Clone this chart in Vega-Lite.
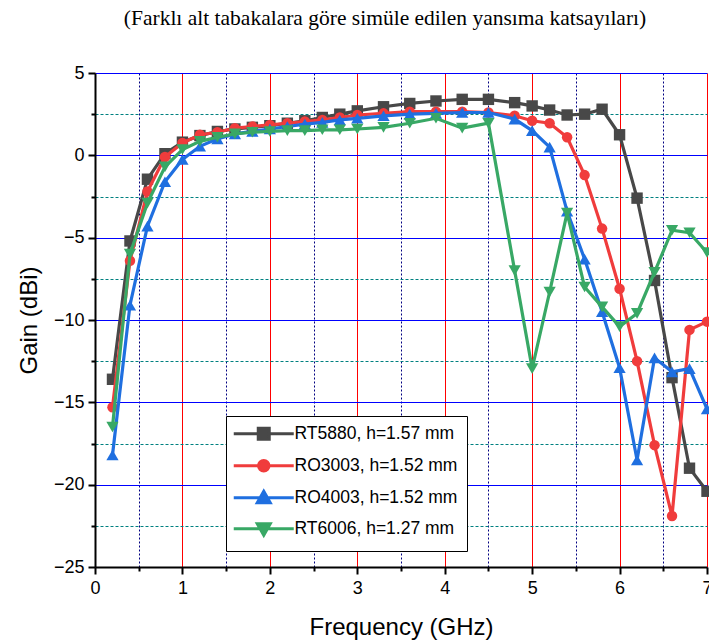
{
  "$schema": "https://vega.github.io/schema/vega-lite/v6.json",
  "autosize": {"type": "none"},
  "width": 612,
  "height": 494,
  "padding": {"left": 95, "top": 73, "right": 2, "bottom": 77},
  "background": "white",
  "config": {"view": {"stroke": null}},
  "title": {
    "text": "(Farklı alt tabakalara göre simüle edilen yansıma katsayıları)",
    "font": "Liberation Serif",
    "fontSize": 21.5,
    "fontWeight": "normal",
    "color": "black",
    "anchor": "middle",
    "dx": -16,
    "offset": 35
  },
  "datasets": {
    "gain": [
      {"s": "RT5880, h=1.57 mm", "f": 0.2, "g": -13.6},
      {"s": "RT5880, h=1.57 mm", "f": 0.4, "g": -5.2},
      {"s": "RT5880, h=1.57 mm", "f": 0.6, "g": -1.45},
      {"s": "RT5880, h=1.57 mm", "f": 0.8, "g": 0.1},
      {"s": "RT5880, h=1.57 mm", "f": 1.0, "g": 0.8},
      {"s": "RT5880, h=1.57 mm", "f": 1.2, "g": 1.2},
      {"s": "RT5880, h=1.57 mm", "f": 1.4, "g": 1.45},
      {"s": "RT5880, h=1.57 mm", "f": 1.6, "g": 1.6},
      {"s": "RT5880, h=1.57 mm", "f": 1.8, "g": 1.7},
      {"s": "RT5880, h=1.57 mm", "f": 2.0, "g": 1.8},
      {"s": "RT5880, h=1.57 mm", "f": 2.2, "g": 1.95},
      {"s": "RT5880, h=1.57 mm", "f": 2.4, "g": 2.1},
      {"s": "RT5880, h=1.57 mm", "f": 2.6, "g": 2.3},
      {"s": "RT5880, h=1.57 mm", "f": 2.8, "g": 2.5},
      {"s": "RT5880, h=1.57 mm", "f": 3.0, "g": 2.7},
      {"s": "RT5880, h=1.57 mm", "f": 3.3, "g": 2.95},
      {"s": "RT5880, h=1.57 mm", "f": 3.6, "g": 3.15},
      {"s": "RT5880, h=1.57 mm", "f": 3.9, "g": 3.3},
      {"s": "RT5880, h=1.57 mm", "f": 4.2, "g": 3.4},
      {"s": "RT5880, h=1.57 mm", "f": 4.5, "g": 3.4},
      {"s": "RT5880, h=1.57 mm", "f": 4.8, "g": 3.2},
      {"s": "RT5880, h=1.57 mm", "f": 5.0, "g": 3.0},
      {"s": "RT5880, h=1.57 mm", "f": 5.2, "g": 2.75},
      {"s": "RT5880, h=1.57 mm", "f": 5.4, "g": 2.45},
      {"s": "RT5880, h=1.57 mm", "f": 5.6, "g": 2.5},
      {"s": "RT5880, h=1.57 mm", "f": 5.8, "g": 2.8},
      {"s": "RT5880, h=1.57 mm", "f": 6.0, "g": 1.25},
      {"s": "RT5880, h=1.57 mm", "f": 6.2, "g": -2.6},
      {"s": "RT5880, h=1.57 mm", "f": 6.4, "g": -7.6},
      {"s": "RT5880, h=1.57 mm", "f": 6.6, "g": -13.5},
      {"s": "RT5880, h=1.57 mm", "f": 6.8, "g": -19.0},
      {"s": "RT5880, h=1.57 mm", "f": 7.0, "g": -20.4},
      {"s": "RO3003, h=1.52 mm", "f": 0.2, "g": -15.3},
      {"s": "RO3003, h=1.52 mm", "f": 0.4, "g": -6.4},
      {"s": "RO3003, h=1.52 mm", "f": 0.6, "g": -2.2},
      {"s": "RO3003, h=1.52 mm", "f": 0.8, "g": -0.1},
      {"s": "RO3003, h=1.52 mm", "f": 1.0, "g": 0.75},
      {"s": "RO3003, h=1.52 mm", "f": 1.2, "g": 1.25},
      {"s": "RO3003, h=1.52 mm", "f": 1.4, "g": 1.4},
      {"s": "RO3003, h=1.52 mm", "f": 1.6, "g": 1.65},
      {"s": "RO3003, h=1.52 mm", "f": 1.8, "g": 1.75},
      {"s": "RO3003, h=1.52 mm", "f": 2.0, "g": 1.85},
      {"s": "RO3003, h=1.52 mm", "f": 2.2, "g": 1.95},
      {"s": "RO3003, h=1.52 mm", "f": 2.4, "g": 2.05},
      {"s": "RO3003, h=1.52 mm", "f": 2.6, "g": 2.15},
      {"s": "RO3003, h=1.52 mm", "f": 2.8, "g": 2.3},
      {"s": "RO3003, h=1.52 mm", "f": 3.0, "g": 2.45},
      {"s": "RO3003, h=1.52 mm", "f": 3.3, "g": 2.55},
      {"s": "RO3003, h=1.52 mm", "f": 3.6, "g": 2.65},
      {"s": "RO3003, h=1.52 mm", "f": 3.9, "g": 2.65},
      {"s": "RO3003, h=1.52 mm", "f": 4.2, "g": 2.65},
      {"s": "RO3003, h=1.52 mm", "f": 4.5, "g": 2.6},
      {"s": "RO3003, h=1.52 mm", "f": 4.8, "g": 2.4},
      {"s": "RO3003, h=1.52 mm", "f": 5.0, "g": 2.1},
      {"s": "RO3003, h=1.52 mm", "f": 5.2, "g": 1.95},
      {"s": "RO3003, h=1.52 mm", "f": 5.4, "g": 1.1},
      {"s": "RO3003, h=1.52 mm", "f": 5.6, "g": -1.2},
      {"s": "RO3003, h=1.52 mm", "f": 5.8, "g": -4.45},
      {"s": "RO3003, h=1.52 mm", "f": 6.0, "g": -8.1},
      {"s": "RO3003, h=1.52 mm", "f": 6.2, "g": -12.5},
      {"s": "RO3003, h=1.52 mm", "f": 6.4, "g": -17.6},
      {"s": "RO3003, h=1.52 mm", "f": 6.6, "g": -21.9},
      {"s": "RO3003, h=1.52 mm", "f": 6.8, "g": -10.6},
      {"s": "RO3003, h=1.52 mm", "f": 7.0, "g": -10.1},
      {"s": "RO4003, h=1.52 mm", "f": 0.2, "g": -18.2},
      {"s": "RO4003, h=1.52 mm", "f": 0.4, "g": -9.1},
      {"s": "RO4003, h=1.52 mm", "f": 0.6, "g": -4.3},
      {"s": "RO4003, h=1.52 mm", "f": 0.8, "g": -1.6},
      {"s": "RO4003, h=1.52 mm", "f": 1.0, "g": -0.25},
      {"s": "RO4003, h=1.52 mm", "f": 1.2, "g": 0.55},
      {"s": "RO4003, h=1.52 mm", "f": 1.4, "g": 1.0},
      {"s": "RO4003, h=1.52 mm", "f": 1.6, "g": 1.3},
      {"s": "RO4003, h=1.52 mm", "f": 1.8, "g": 1.45},
      {"s": "RO4003, h=1.52 mm", "f": 2.0, "g": 1.6},
      {"s": "RO4003, h=1.52 mm", "f": 2.2, "g": 1.75},
      {"s": "RO4003, h=1.52 mm", "f": 2.4, "g": 1.9},
      {"s": "RO4003, h=1.52 mm", "f": 2.6, "g": 2.0},
      {"s": "RO4003, h=1.52 mm", "f": 2.8, "g": 2.15},
      {"s": "RO4003, h=1.52 mm", "f": 3.0, "g": 2.25},
      {"s": "RO4003, h=1.52 mm", "f": 3.3, "g": 2.4},
      {"s": "RO4003, h=1.52 mm", "f": 3.6, "g": 2.5},
      {"s": "RO4003, h=1.52 mm", "f": 3.9, "g": 2.55},
      {"s": "RO4003, h=1.52 mm", "f": 4.2, "g": 2.6},
      {"s": "RO4003, h=1.52 mm", "f": 4.5, "g": 2.6},
      {"s": "RO4003, h=1.52 mm", "f": 4.8, "g": 2.2},
      {"s": "RO4003, h=1.52 mm", "f": 5.0, "g": 1.5},
      {"s": "RO4003, h=1.52 mm", "f": 5.2, "g": 0.5},
      {"s": "RO4003, h=1.52 mm", "f": 5.4, "g": -3.4},
      {"s": "RO4003, h=1.52 mm", "f": 5.6, "g": -6.3},
      {"s": "RO4003, h=1.52 mm", "f": 5.8, "g": -9.5},
      {"s": "RO4003, h=1.52 mm", "f": 6.0, "g": -12.9},
      {"s": "RO4003, h=1.52 mm", "f": 6.2, "g": -18.5},
      {"s": "RO4003, h=1.52 mm", "f": 6.4, "g": -12.3},
      {"s": "RO4003, h=1.52 mm", "f": 6.6, "g": -13.15},
      {"s": "RO4003, h=1.52 mm", "f": 6.8, "g": -12.95},
      {"s": "RO4003, h=1.52 mm", "f": 7.0, "g": -15.4},
      {"s": "RT6006, h=1.27 mm", "f": 0.2, "g": -16.5},
      {"s": "RT6006, h=1.27 mm", "f": 0.4, "g": -6.0},
      {"s": "RT6006, h=1.27 mm", "f": 0.6, "g": -2.9},
      {"s": "RT6006, h=1.27 mm", "f": 0.8, "g": -0.7},
      {"s": "RT6006, h=1.27 mm", "f": 1.0, "g": 0.35},
      {"s": "RT6006, h=1.27 mm", "f": 1.2, "g": 0.85},
      {"s": "RT6006, h=1.27 mm", "f": 1.4, "g": 1.1},
      {"s": "RT6006, h=1.27 mm", "f": 1.6, "g": 1.3},
      {"s": "RT6006, h=1.27 mm", "f": 1.8, "g": 1.4},
      {"s": "RT6006, h=1.27 mm", "f": 2.0, "g": 1.45},
      {"s": "RT6006, h=1.27 mm", "f": 2.2, "g": 1.5},
      {"s": "RT6006, h=1.27 mm", "f": 2.4, "g": 1.5},
      {"s": "RT6006, h=1.27 mm", "f": 2.6, "g": 1.55},
      {"s": "RT6006, h=1.27 mm", "f": 2.8, "g": 1.55},
      {"s": "RT6006, h=1.27 mm", "f": 3.0, "g": 1.6},
      {"s": "RT6006, h=1.27 mm", "f": 3.3, "g": 1.7},
      {"s": "RT6006, h=1.27 mm", "f": 3.6, "g": 1.95},
      {"s": "RT6006, h=1.27 mm", "f": 3.9, "g": 2.25},
      {"s": "RT6006, h=1.27 mm", "f": 4.2, "g": 1.65},
      {"s": "RT6006, h=1.27 mm", "f": 4.5, "g": 1.95},
      {"s": "RT6006, h=1.27 mm", "f": 4.8, "g": -7.0},
      {"s": "RT6006, h=1.27 mm", "f": 5.0, "g": -12.95},
      {"s": "RT6006, h=1.27 mm", "f": 5.2, "g": -8.3},
      {"s": "RT6006, h=1.27 mm", "f": 5.4, "g": -3.5},
      {"s": "RT6006, h=1.27 mm", "f": 5.6, "g": -8.0},
      {"s": "RT6006, h=1.27 mm", "f": 5.8, "g": -9.2},
      {"s": "RT6006, h=1.27 mm", "f": 6.0, "g": -10.4},
      {"s": "RT6006, h=1.27 mm", "f": 6.2, "g": -9.6},
      {"s": "RT6006, h=1.27 mm", "f": 6.4, "g": -7.1},
      {"s": "RT6006, h=1.27 mm", "f": 6.6, "g": -4.55},
      {"s": "RT6006, h=1.27 mm", "f": 6.8, "g": -4.7},
      {"s": "RT6006, h=1.27 mm", "f": 7.0, "g": -5.9}
    ]
  },
  "data": {"name": "gain"},
  "encoding": {
    "x": {
      "field": "f", "type": "quantitative",
      "scale": {"domain": [0, 7], "nice": false, "zero": false},
      "axis": {
        "title": "Frequency (GHz)",
        "titleFont": "Liberation Sans", "titleFontSize": 24, "titleFontWeight": "normal", "titleColor": "black",
        "titlePadding": 18,
        "values": [0, 0.5, 1, 1.5, 2, 2.5, 3, 3.5, 4, 4.5, 5, 5.5, 6, 6.5, 7],
        "format": ".0f",
        "labelExpr": "datum.value % 1 === 0 ? datum.label : ''",
        "labelFont": "Liberation Sans", "labelFontSize": 18, "labelColor": "black", "labelPadding": 5,
        "labelFlush": false, "labelOverlap": false,
        "domainColor": "black", "domainWidth": 2,
        "tickColor": "black", "tickWidth": 2,
        "tickSize": {"condition": {"test": "datum.value % 1 === 0", "value": 7}, "value": 4},
        "grid": true,
        "gridColor": {"condition": {"test": "datum.value % 1 === 0", "value": "#FF0000"}, "value": "#000080"},
        "gridDash": {"condition": {"test": "datum.value % 1 === 0", "value": []}, "value": [2, 2]},
        "gridWidth": 1, "gridOpacity": 1
      }
    },
    "y": {
      "field": "g", "type": "quantitative",
      "scale": {"domain": [-25, 5], "nice": false, "zero": false},
      "axis": {
        "title": "Gain (dBi)",
        "titleFont": "Liberation Sans", "titleFontSize": 24, "titleFontWeight": "normal", "titleColor": "black",
        "titlePadding": 12,
        "values": [-25, -22.5, -20, -17.5, -15, -12.5, -10, -7.5, -5, -2.5, 0, 2.5, 5],
        "format": ".0f",
        "labelExpr": "datum.value % 5 === 0 ? datum.label : ''",
        "labelFont": "Liberation Sans", "labelFontSize": 18, "labelColor": "black", "labelPadding": 4,
        "labelFlush": false, "labelOverlap": false,
        "domainColor": "black", "domainWidth": 2,
        "tickColor": "black", "tickWidth": 2,
        "tickSize": {"condition": {"test": "datum.value % 5 === 0", "value": 7}, "value": 4},
        "grid": true,
        "gridColor": {"condition": {"test": "datum.value % 5 === 0", "value": "#0000FF"}, "value": "#008080"},
        "gridDash": {"condition": {"test": "datum.value % 5 === 0", "value": []}, "value": [3, 2]},
        "gridWidth": 1, "gridOpacity": 1
      }
    }
  },
  "layer": [
    {
      "transform": [{"filter": {"field": "s", "equal": "RT5880, h=1.57 mm"}}],
      "mark": {"type": "line", "strokeWidth": 3.2},
      "encoding": {
        "color": {
          "field": "s", "type": "nominal",
          "scale": {
            "domain": ["RT5880, h=1.57 mm", "RO3003, h=1.52 mm", "RO4003, h=1.52 mm", "RT6006, h=1.27 mm"],
            "range": ["#484848", "#F03C3C", "#1F6FE0", "#38A865"]
          },
          "legend": {
            "title": null,
            "orient": "none",
            "legendX": 131,
            "legendY": 343,
            "strokeColor": "black",
            "fillColor": "white",
            "padding": 9,
            "symbolSize": 100,
            "symbolStrokeWidth": 3,
            "symbolOffset": 20,
            "labelOffset": 22,
            "rowPadding": 8,
            "labelFont": "Liberation Sans",
            "labelFontSize": 17.5,
            "labelColor": "black",
            "labelLimit": 300,
            "encode": {
              "symbols": {
                "update": {
                  "shape": {"signal": "datum.value === 'RT5880, h=1.57 mm' ? 'M-6,0H6M-1.1,-1.1H1.1V1.1H-1.1Z' : datum.value === 'RO3003, h=1.52 mm' ? 'M-6,0H6M-1.05,0A1.05,1.05 0 1,0 1.05,0A1.05,1.05 0 1,0 -1.05,0Z' : datum.value === 'RO4003, h=1.52 mm' ? 'M-6,0H6M0,-1.3L1.3,1L-1.3,1Z' : 'M-6,0H6M0,1.3L1.3,-1L-1.3,-1Z'"},
                  "fill": {"signal": "datum.value === 'RT5880, h=1.57 mm' ? '#484848' : datum.value === 'RO3003, h=1.52 mm' ? '#F03C3C' : datum.value === 'RO4003, h=1.52 mm' ? '#1F6FE0' : '#38A865'"},
                  "strokeWidth": {"value": 3},
                  "opacity": {"value": 1}
                }
              }
            }
          }
        }
      }
    },
    {
      "transform": [{"filter": {"field": "s", "equal": "RT5880, h=1.57 mm"}}],
      "mark": {"type": "point", "shape": "square", "filled": true, "opacity": 1, "size": 130, "color": "#484848"}
    },
    {
      "transform": [{"filter": {"field": "s", "equal": "RO3003, h=1.52 mm"}}],
      "mark": {"type": "line", "strokeWidth": 3.2},
      "encoding": {
        "color": {
          "field": "s", "type": "nominal",
          "scale": {
            "domain": ["RT5880, h=1.57 mm", "RO3003, h=1.52 mm", "RO4003, h=1.52 mm", "RT6006, h=1.27 mm"],
            "range": ["#484848", "#F03C3C", "#1F6FE0", "#38A865"]
          }
        }
      }
    },
    {
      "transform": [{"filter": {"field": "s", "equal": "RO3003, h=1.52 mm"}}],
      "mark": {"type": "point", "shape": "circle", "filled": true, "opacity": 1, "size": 110, "color": "#F03C3C"}
    },
    {
      "transform": [{"filter": {"field": "s", "equal": "RO4003, h=1.52 mm"}}],
      "mark": {"type": "line", "strokeWidth": 3.2},
      "encoding": {
        "color": {
          "field": "s", "type": "nominal",
          "scale": {
            "domain": ["RT5880, h=1.57 mm", "RO3003, h=1.52 mm", "RO4003, h=1.52 mm", "RT6006, h=1.27 mm"],
            "range": ["#484848", "#F03C3C", "#1F6FE0", "#38A865"]
          }
        }
      }
    },
    {
      "transform": [{"filter": {"field": "s", "equal": "RO4003, h=1.52 mm"}}],
      "mark": {"type": "point", "shape": "triangle-up", "filled": true, "opacity": 1, "size": 150, "color": "#1F6FE0"}
    },
    {
      "transform": [{"filter": {"field": "s", "equal": "RT6006, h=1.27 mm"}}],
      "mark": {"type": "line", "strokeWidth": 3.2},
      "encoding": {
        "color": {
          "field": "s", "type": "nominal",
          "scale": {
            "domain": ["RT5880, h=1.57 mm", "RO3003, h=1.52 mm", "RO4003, h=1.52 mm", "RT6006, h=1.27 mm"],
            "range": ["#484848", "#F03C3C", "#1F6FE0", "#38A865"]
          }
        }
      }
    },
    {
      "transform": [{"filter": {"field": "s", "equal": "RT6006, h=1.27 mm"}}],
      "mark": {"type": "point", "shape": "triangle-down", "filled": true, "opacity": 1, "size": 150, "color": "#38A865"}
    }
  ]
}
